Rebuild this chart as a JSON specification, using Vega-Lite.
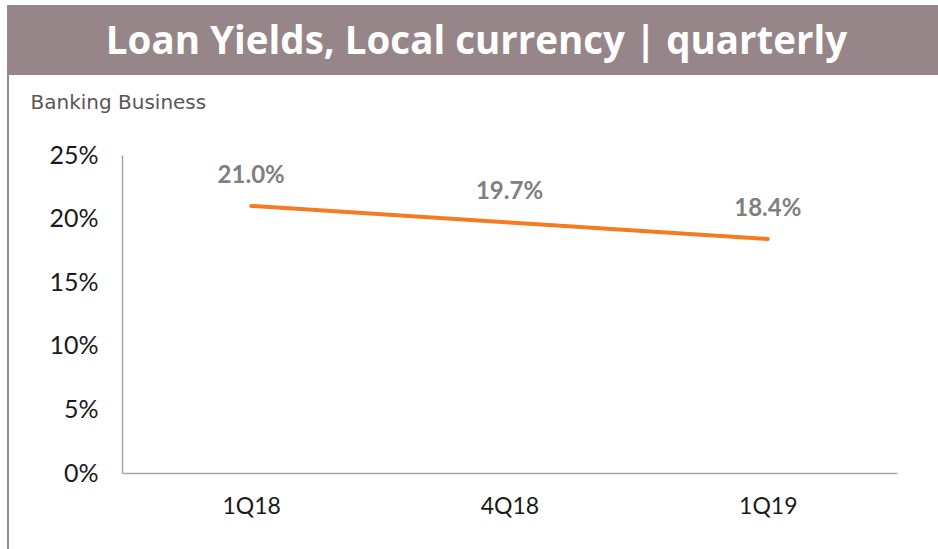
{
  "$schema": "https://vega.github.io/schema/vega-lite/v6.json",
  "padding": {"left": 7, "top": 5, "right": 0, "bottom": 0},
  "background": "white",
  "spacing": 0,
  "config": {"view": {"stroke": null}, "font": "Lato"},
  "hconcat": [
    {
      "width": 2,
      "height": 544,
      "view": {"fill": "#978689", "stroke": null},
      "data": {"values": [{"t": ""}]},
      "mark": {"type": "text"},
      "encoding": {"text": {"field": "t"}}
    },
    {
      "spacing": 17,
      "vconcat": [
        {
          "width": 929,
          "height": 70,
          "view": {"fill": "#978689", "stroke": null},
          "data": {"values": [{"title": "Loan Yields, Local currency | quarterly"}]},
          "mark": {"type": "text", "font": "Open Sans", "fontWeight": "bold", "fontSize": 38.5, "color": "white", "baseline": "middle", "align": "center", "dx": 3, "dy": 2},
          "encoding": {"text": {"field": "title"}}
        },
        {
          "width": 888,
          "height": 318,
          "data": {"values": [
            {"q": "1Q18", "v": 0.21},
            {"q": "4Q18", "v": 0.197},
            {"q": "1Q19", "v": 0.184}
          ]},
          "encoding": {
            "x": {
              "field": "q", "type": "ordinal", "sort": null,
              "scale": {"type": "point", "range": [113, 888], "padding": 0.5},
              "axis": {"title": null, "labelAngle": 0, "ticks": false, "domainColor": "#a6a6a6", "domainWidth": 1.5, "labelFontSize": 23, "labelColor": "#1a1a1a", "labelPadding": 22, "labelFont": "Lato"}
            },
            "y": {
              "field": "v", "type": "quantitative",
              "scale": {"domain": [0, 0.25], "nice": false},
              "axis": {
                "format": "%", "values": [0, 0.05, 0.1, 0.15, 0.2, 0.25], "grid": false, "ticks": false,
                "domainColor": "#a6a6a6", "domainWidth": 1.5, "offset": -113, "labelPadding": 24,
                "labelFontSize": 25, "labelColor": "#1a1a1a", "labelFont": "Lato",
                "title": "Banking Business", "titleAngle": 0, "titleX": -92, "titleY": -47,
                "titleAlign": "left", "titleBaseline": "alphabetic", "titleFontWeight": "normal",
                "titleFontSize": 20, "titleColor": "#5c5555", "titleFont": "DejaVu Sans"
              }
            }
          },
          "layer": [
            {"mark": {"type": "line", "color": "#f47b20", "strokeWidth": 4, "strokeCap": "round"}},
            {"mark": {"type": "text", "dy": -23, "baseline": "alphabetic", "fontWeight": "bold", "fontSize": 24, "color": "#808080", "font": "Lato"},
             "encoding": {"text": {"field": "v", "type": "quantitative", "format": ".1%"}}}
          ]
        }
      ]
    }
  ]
}
